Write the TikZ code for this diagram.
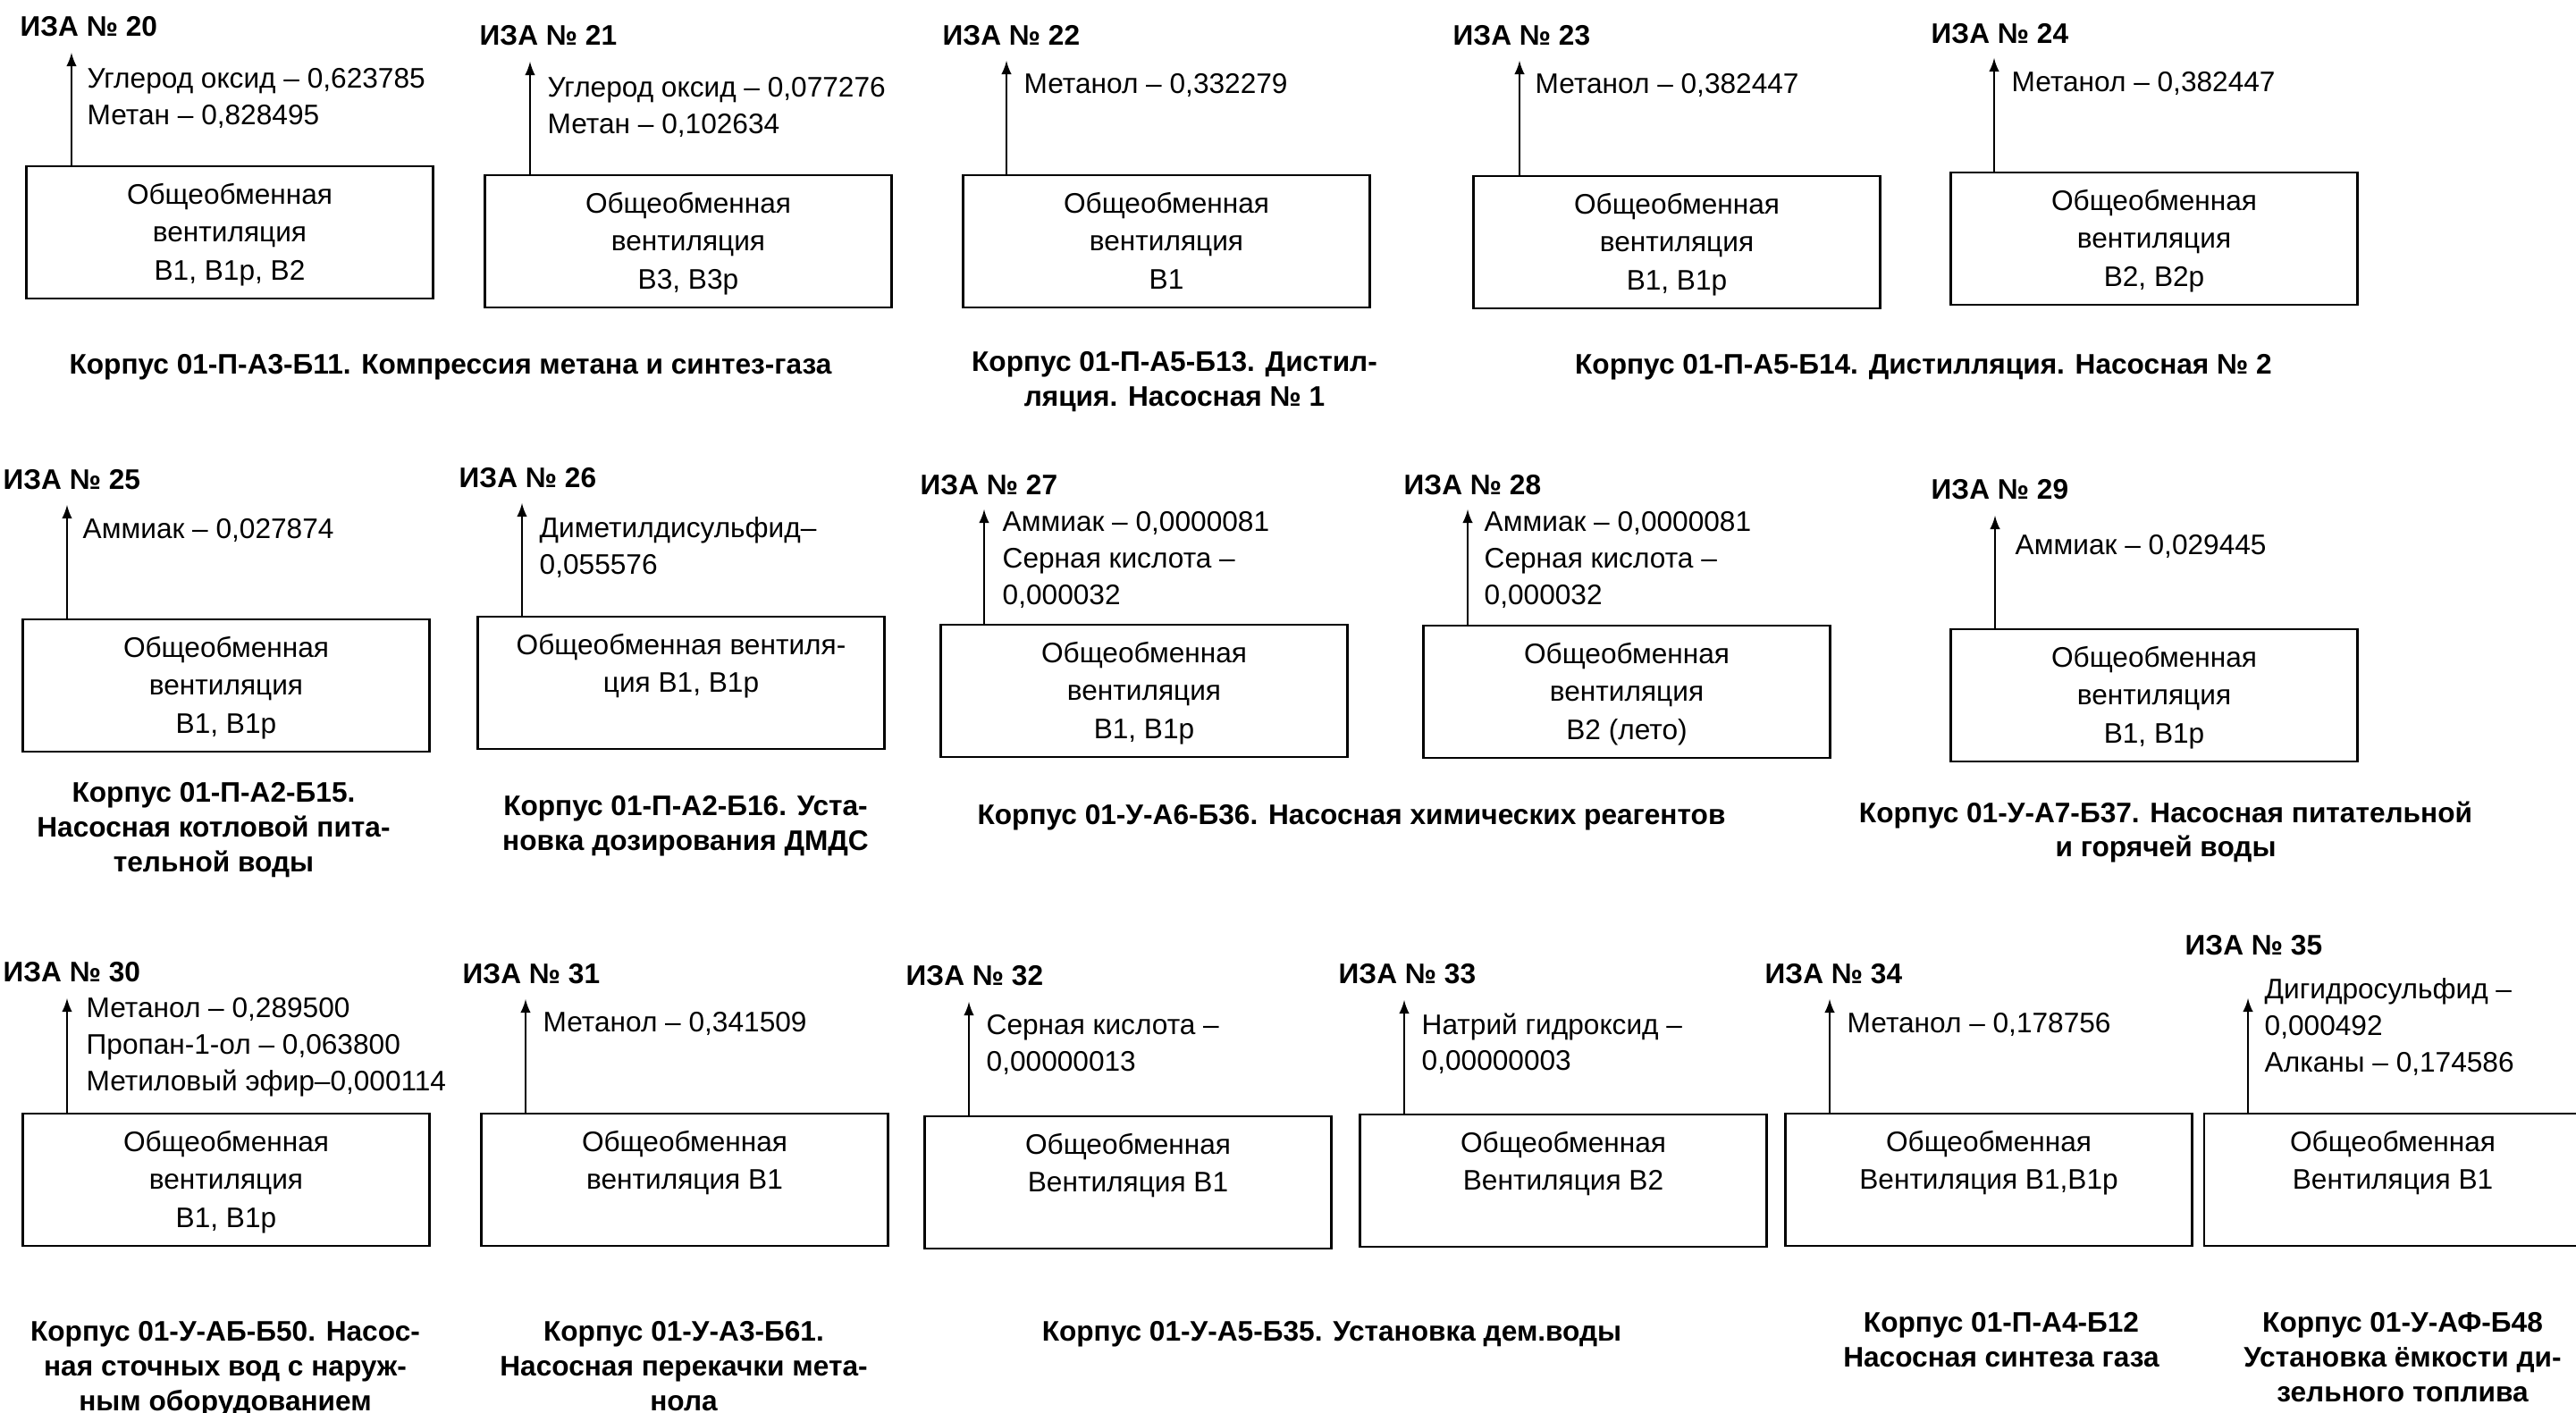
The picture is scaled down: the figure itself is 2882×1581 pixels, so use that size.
\documentclass[tikz,border=0pt]{standalone}
\usepackage{fontspec}
\setmainfont{Liberation Sans}
\usetikzlibrary{positioning}
\tikzset{
  vbox/.style={draw,line width=0.7pt,minimum width=45.5mm,minimum height=14.8mm,inner sep=0pt},
  vtxt/.style={align=center,inner sep=0pt,font=\fontsize{9}{12}\selectfont},
  emis/.style={anchor=north west,align=left,inner sep=0pt,font=\fontsize{9}{11.6}\selectfont},
  iza/.style={anchor=west,inner sep=0pt,font=\bfseries\fontsize{9}{11}\selectfont},
  korp/.style={anchor=north,align=center,inner sep=0pt,font=\bfseries\fontsize{9}{11}\selectfont},
  vent/.style={-latex,line width=0.5pt},
}
\begin{document}
\begin{tikzpicture}[x=0.1mm,y=-0.1mm]
\clip (0,0) rectangle (2882,1581);
%========= row 1
\node[iza] (iza20) at (22,30) {ИЗА № 20};
\node[vbox] (box20) at (257,260) {};
\node[vtxt,below=2mm of box20.north] (txt20) {Общеобменная\\вентиляция\\В1, В1р, В2};
\coordinate (up20) at (80,59);
\draw[vent] (box20.north -| up20) -- (up20);
\node[emis] (em20) at (97,76) {Углерод оксид – 0,623785\\Метан – 0,828495};
%
\node[iza] (iza21) at (536,40) {ИЗА № 21};
\node[vbox] (box21) at (770,270) {};
\node[vtxt,below=2mm of box21.north] (txt21) {Общеобменная\\вентиляция\\В3, В3р};
\coordinate (up21) at (593,69);
\draw[vent] (box21.north -| up21) -- (up21);
\node[emis] (em21) at (612,86) {Углерод оксид – 0,077276\\Метан – 0,102634};
%
\node[iza] (iza22) at (1054,40) {ИЗА № 22};
\node[vbox] (box22) at (1305,270) {};
\node[vtxt,below=2mm of box22.north] (txt22) {Общеобменная\\вентиляция\\В1};
\coordinate (up22) at (1126,68);
\draw[vent] (box22.north -| up22) -- (up22);
\node[emis] (em22) at (1145,82) {Метанол – 0,332279};
%
\node[iza] (iza23) at (1625,40) {ИЗА № 23};
\node[vbox] (box23) at (1876,271) {};
\node[vtxt,below=2mm of box23.north] (txt23) {Общеобменная\\вентиляция\\В1, В1р};
\coordinate (up23) at (1700,68);
\draw[vent] (box23.north -| up23) -- (up23);
\node[emis] (em23) at (1717,82) {Метанол – 0,382447};
%
\node[iza] (iza24) at (2160,38) {ИЗА № 24};
\node[vbox] (box24) at (2410,267) {};
\node[vtxt,below=2mm of box24.north] (txt24) {Общеобменная\\вентиляция\\В2, В2р};
\coordinate (up24) at (2231,65);
\draw[vent] (box24.north -| up24) -- (up24);
\node[emis] (em24) at (2250,80) {Метанол – 0,382447};
%
\node[korp] (lab11) at (504,396) {Корпус 01-П-А3-Б11. Компрессия метана и синтез-газа};
\node[korp] (lab13) at (1314,393) {Корпус 01-П-А5-Б13. Дистил-\\ляция. Насосная № 1};
\node[korp] (lab14) at (2152,396) {Корпус 01-П-А5-Б14. Дистилляция. Насосная № 2};
%========= row 2
\node[iza] (iza25) at (3,537) {ИЗА № 25};
\node[vbox] (box25) at (253,767) {};
\node[vtxt,below=2mm of box25.north] (txt25) {Общеобменная\\вентиляция\\В1, В1р};
\coordinate (up25) at (75,565);
\draw[vent] (box25.north -| up25) -- (up25);
\node[emis] (em25) at (92,580) {Аммиак – 0,027874};
%
\node[iza] (iza26) at (513,535) {ИЗА № 26};
\node[vbox] (box26) at (762,764) {};
\node[vtxt,below=2mm of box26.north] (txt26) {Общеобменная вентиля-\\ция В1, В1р};
\coordinate (up26) at (584,563);
\draw[vent] (box26.north -| up26) -- (up26);
\node[emis] (em26) at (603,578) {Диметилдисульфид–\\0,055576};
%
\node[iza] (iza27) at (1029,543) {ИЗА № 27};
\node[vbox] (box27) at (1280,773) {};
\node[vtxt,below=2mm of box27.north] (txt27) {Общеобменная\\вентиляция\\В1, В1р};
\coordinate (up27) at (1101,570);
\draw[vent] (box27.north -| up27) -- (up27);
\node[emis] (em27) at (1121,572) {Аммиак – 0,0000081\\Серная кислота –\\0,000032};
%
\node[iza] (iza28) at (1570,543) {ИЗА № 28};
\node[vbox] (box28) at (1820,774) {};
\node[vtxt,below=2mm of box28.north] (txt28) {Общеобменная\\вентиляция\\В2 (лето)};
\coordinate (up28) at (1642,570);
\draw[vent] (box28.north -| up28) -- (up28);
\node[emis] (em28) at (1660,572) {Аммиак – 0,0000081\\Серная кислота –\\0,000032};
%
\node[iza] (iza29) at (2160,548) {ИЗА № 29};
\node[vbox] (box29) at (2410,778) {};
\node[vtxt,below=2mm of box29.north] (txt29) {Общеобменная\\вентиляция\\В1, В1р};
\coordinate (up29) at (2232,577);
\draw[vent] (box29.north -| up29) -- (up29);
\node[emis] (em29) at (2254,598) {Аммиак – 0,029445};
%
\node[korp] (lab15) at (239,875) {Корпус 01-П-А2-Б15.\\Насосная котловой пита-\\тельной воды};
\node[korp] (lab16) at (767,890) {Корпус 01-П-А2-Б16. Уста-\\новка дозирования ДМДС};
\node[korp] (lab36) at (1512,900) {Корпус 01-У-А6-Б36. Насосная химических реагентов};
\node[korp] (lab37) at (2423,896) {Корпус 01-У-А7-Б37. Насосная питательной\\и горячей воды};
%========= row 3
\node[iza] (iza30) at (3,1088) {ИЗА № 30};
\node[vbox] (box30) at (253,1320) {};
\node[vtxt,below=2mm of box30.north] (txt30) {Общеобменная\\вентиляция\\В1, В1р};
\coordinate (up30) at (75,1117);
\draw[vent] (box30.north -| up30) -- (up30);
\node[emis] (em30) at (96,1116) {Метанол – 0,289500\\Пропан-1-ол – 0,063800\\Метиловый эфир–0,000114};
%
\node[iza] (iza31) at (517,1090) {ИЗА № 31};
\node[vbox] (box31) at (766,1320) {};
\node[vtxt,below=2mm of box31.north] (txt31) {Общеобменная\\вентиляция В1};
\coordinate (up31) at (588,1118);
\draw[vent] (box31.north -| up31) -- (up31);
\node[emis] (em31) at (607,1132) {Метанол – 0,341509};
%
\node[iza] (iza32) at (1013,1092) {ИЗА № 32};
\node[vbox] (box32) at (1262,1323) {};
\node[vtxt,below=2mm of box32.north] (txt32) {Общеобменная\\Вентиляция В1};
\coordinate (up32) at (1084,1121);
\draw[vent] (box32.north -| up32) -- (up32);
\node[emis] (em32) at (1103,1135) {Серная кислота –\\0,00000013};
%
\node[iza] (iza33) at (1497,1090) {ИЗА № 33};
\node[vbox] (box33) at (1749,1321) {};
\node[vtxt,below=2mm of box33.north] (txt33) {Общеобменная\\Вентиляция В2};
\coordinate (up33) at (1571,1119);
\draw[vent] (box33.north -| up33) -- (up33);
\node[emis] (em33) at (1590,1133) {Натрий гидроксид –\\0,00000003};
%
\node[iza] (iza34) at (1974,1090) {ИЗА № 34};
\node[vbox] (box34) at (2225,1320) {};
\node[vtxt,below=2mm of box34.north] (txt34) {Общеобменная\\Вентиляция В1,В1р};
\coordinate (up34) at (2047,1118);
\draw[vent] (box34.north -| up34) -- (up34);
\node[emis] (em34) at (2066,1133) {Метанол – 0,178756};
%
\node[iza] (iza35) at (2444,1058) {ИЗА № 35};
\node[vbox,minimum width=42.2mm] (box35) at (2677,1320) {};
\node[vtxt,below=2mm of box35.north] (txt35) {Общеобменная\\Вентиляция В1};
\coordinate (up35) at (2515,1117);
\draw[vent] (box35.north -| up35) -- (up35);
\node[emis] (em35) at (2533,1094) {Дигидросульфид –\\0,000492\\Алканы – 0,174586};
%
\node[korp] (lab50) at (252,1478) {Корпус 01-У-АБ-Б50. Насос-\\ная сточных вод с наруж-\\ным оборудованием};
\node[korp] (lab61) at (765,1478) {Корпус 01-У-А3-Б61.\\Насосная перекачки мета-\\нола};
\node[korp] (lab35) at (1490,1478) {Корпус 01-У-А5-Б35. Установка дем.воды};
\node[korp] (lab12) at (2239,1468) {Корпус 01-П-А4-Б12\\Насосная синтеза газа};
\node[korp] (lab48) at (2688,1468) {Корпус 01-У-АФ-Б48\\Установка ёмкости ди-\\зельного топлива};
\end{tikzpicture}
\end{document}
